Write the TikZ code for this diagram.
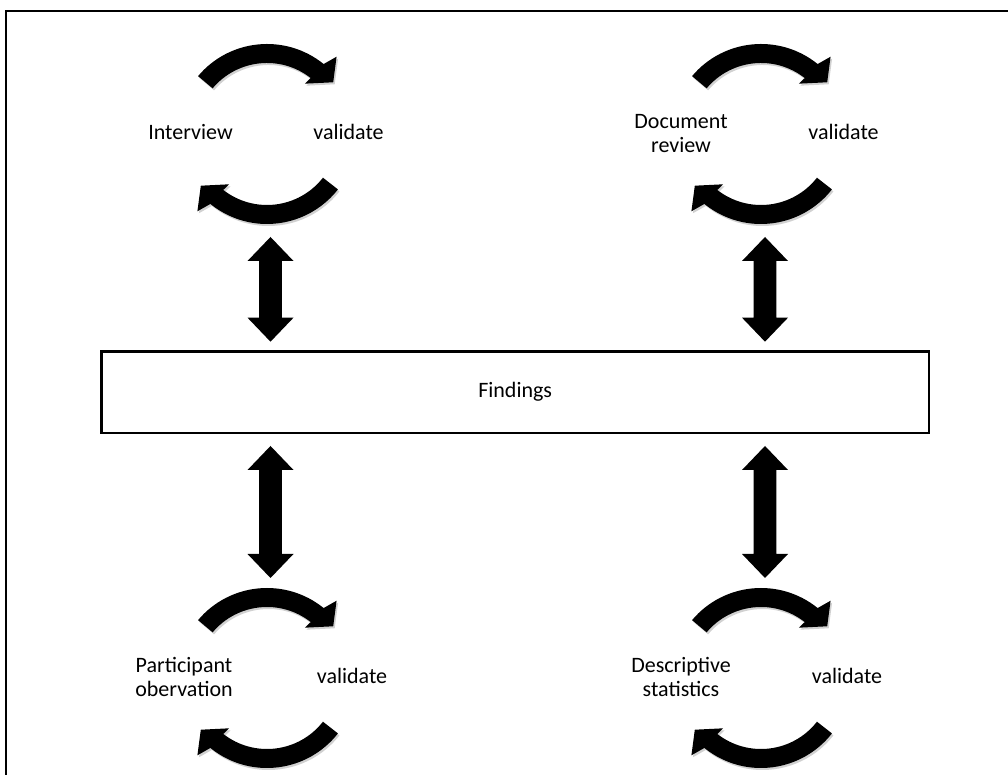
\documentclass[tikz,border=0pt]{standalone}
\usepackage{fontspec}
\setmainfont{Carlito}
\usetikzlibrary{calc}
\tikzset{
  lbl/.style={font=\fontsize{22}{23.5}\selectfont, inner sep=0pt, align=center},
  boxstyle/.style={draw=black, line width=2.7pt, inner sep=0pt, minimum width=827.7pt, minimum height=81.7pt, font=\fontsize{22}{23.5}\selectfont},
  framestyle/.style={draw=black, line width=2pt},
  cycshadow/.style={fill=black!18},
  cycfill/.style={fill=black}
}
\newcommand{\cycarr}[3]{%
  \pgfmathsetmacro{\ea}{#3+1}\pgfmathsetmacro{\eb}{#3-2}\pgfmathsetmacro{\ec}{#3-12}%
  \pgfmathsetmacro{\ed}{#3+3}\pgfmathsetmacro{\ee}{#3+2}%
  \path[cycshadow, shift={(#1)}, xshift=1.5pt, yshift=-2pt] (#2:90pt) arc[start angle=#2,end angle=\ea,radius=90pt] -- (\eb:104pt) -- (\ec:84pt) -- (\ed:63pt) -- (\ee:71pt) arc[start angle=\ee,end angle=#2,radius=71pt] -- cycle;
  \path[cycfill, shift={(#1)}] (#2:90pt) arc[start angle=#2,end angle=\ea,radius=90pt] -- (\eb:104pt) -- (\ec:84pt) -- (\ed:63pt) -- (\ee:71pt) arc[start angle=\ee,end angle=#2,radius=71pt] -- cycle;
}
\newcommand{\dblarr}[2]{%
  \fill (#1) -- ($(#1)+(23,-24)$) -- ($(#1)+(11.4,-24)$) -- ($(#2)+(11.4,24)$) -- ($(#2)+(23,24)$) -- (#2)
    -- ($(#2)+(-23,24)$) -- ($(#2)+(-11.4,24)$) -- ($(#1)+(-11.4,-24)$) -- ($(#1)+(-23,-24)$) -- cycle;
}
\begin{document}
\begin{tikzpicture}[x=1pt,y=1pt]
\useasboundingbox (0,0) rectangle (1008,775);
\fill[white] (0,0) rectangle (1008,775);
% outer frame (only top and left edges visible)
\draw[framestyle] (6.3,0) -- (6.3,763.7) -- (1008,763.7);

% cycle centres
\coordinate (c1) at (267,641);
\coordinate (c2) at (761,641);
\coordinate (c3) at (267,97);
\coordinate (c4) at (761,97);

% cycle arrows
\cycarr{c1}{140}{50}
\cycarr{c1}{322}{230}
\cycarr{c2}{140}{50}
\cycarr{c2}{322}{230}
\cycarr{c3}{140}{50}
\cycarr{c3}{322}{230}
\cycarr{c4}{140}{50}
\cycarr{c4}{322}{230}

% labels
\node[lbl, anchor=base] (int) at (190.5,635) {Interview};
\node[lbl, anchor=base] (val1) at (348.5,635) {validate};
\node[lbl] (doc) at (681,641.5) {Document\\review};
\node[lbl, anchor=base] (val2) at (843.5,635) {validate};
\node[lbl] (par) at (184,98) {Participant\\obervation};
\node[lbl, anchor=base] (val3) at (352,91) {validate};
\node[lbl] (des) at (681,98) {Descriptive\\statistics};
\node[lbl, anchor=base] (val4) at (847,91) {validate};

% findings box
\node[boxstyle] (findings) at (515.2,382.85) {Findings};

% double arrows
\coordinate (a1t) at (270.5,538);
\coordinate (a1b) at (270.5,433.3);
\coordinate (a2t) at (765,538);
\coordinate (a2b) at (765,433.3);
\coordinate (a3t) at (270.5,329);
\coordinate (a3b) at (270.5,197);
\coordinate (a4t) at (765,329);
\coordinate (a4b) at (765,197);
\dblarr{a1t}{a1b}
\dblarr{a2t}{a2b}
\dblarr{a3t}{a3b}
\dblarr{a4t}{a4b}
\end{tikzpicture}
\end{document}
